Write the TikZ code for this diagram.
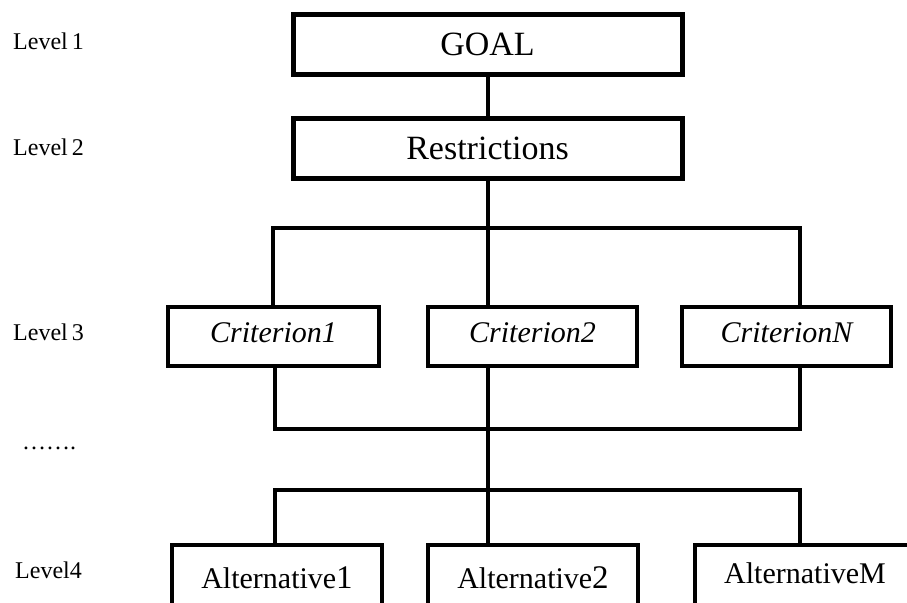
\documentclass[tikz,border=0pt]{standalone}
\usepackage{fontspec}
\setmainfont{Liberation Serif}
\begin{document}
\begin{tikzpicture}[x=1pt,y=-1pt,
  bigbox/.style={draw, line width=5pt, rectangle, inner sep=0pt, font=\fontsize{34}{40}\selectfont},
  critbox/.style={draw, line width=4pt, rectangle, inner sep=0pt, text depth=7pt, minimum width=209pt, minimum height=59pt, font=\fontsize{30}{36}\selectfont\itshape},
  altbox/.style={draw, line width=4pt, rectangle, inner sep=0pt, minimum height=66pt, font=\fontsize{30}{36}\selectfont},
  lvl/.style={anchor=base west, inner sep=0pt, font=\fontsize{24}{28}\selectfont},
  conn/.style={line width=4.5pt, line join=miter}]
\useasboundingbox (0,0) rectangle (907,602);
\clip (0,0) rectangle (907,602);

% level labels
\node[lvl] (l1) at (13,50) {Level\,1};
\node[lvl] (l2) at (13,155) {Level\,2};
\node[lvl] (l3) at (13,340) {Level\,3};
\node[lvl] (ld) at (22,449) {…….};
\node[lvl] (l4) at (15,578) {Level4};

% boxes
\node[bigbox, minimum width=389pt, minimum height=59pt] (goal) at (487.5,44.5) {GOAL};
\node[bigbox, minimum width=389pt, minimum height=60pt] (restr) at (487.5,148) {Restrictions};

\node[critbox, minimum width=211pt] (c1) at (273.5,336.5) {Criterion1};
\node[critbox] (c2) at (532.5,336.5) {Criterion2};
\node[critbox] (cN) at (786.5,336.5) {CriterionN};

\node[altbox, minimum width=210pt] (a1) at (277,578) {Alternative{\fontsize{33}{36}\selectfont 1}};
\node[altbox, minimum width=210pt] (a2) at (533,578) {Alternative{\fontsize{33}{36}\selectfont 2}};
\node[altbox, minimum width=220pt, text depth=10pt] (aM) at (805,578) {AlternativeM};

% bus coordinates
\coordinate (b1) at (488,228);
\coordinate (b1L) at (273,228);
\coordinate (b1R) at (800,228);
\coordinate (b2) at (488,429);
\coordinate (b2L) at (275,429);
\coordinate (b2R) at (800,429);
\coordinate (b3) at (488,490);
\coordinate (b3L) at (275,490);
\coordinate (b3R) at (800,490);

% connectors
\draw[conn] (goal.south -| b1) -- (restr.north -| b1);
\draw[conn] (restr.south -| b1) -- (b1 |- c2.north);
\draw[conn] (c1.north -| b1L) -- (b1L) -- (b1R) -- (cN.north -| b1R);
\draw[conn] (c1.south -| b2L) -- (b2L) -- (b2R) -- (cN.south -| b2R);
\draw[conn] (c2.south -| b2) -- (a2.north -| b2);
\draw[conn] (a1.north -| b3L) -- (b3L) -- (b3R) -- (aM.north -| b3R);
\end{tikzpicture}
\end{document}
